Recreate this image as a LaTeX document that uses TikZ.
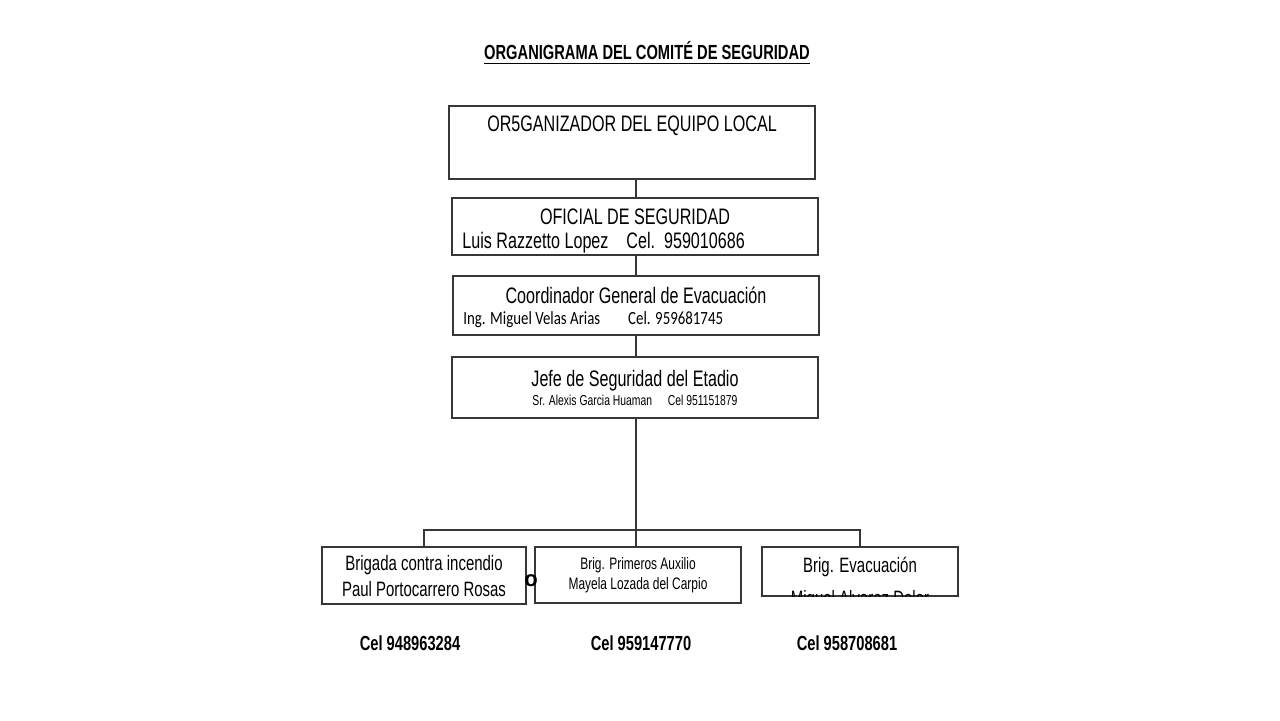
\documentclass[tikz,border=0pt]{standalone}
\usepackage{fontspec}
\setmainfont{Liberation Sans}[FakeStretch=0.72]
\newfontfamily\calfont{Carlito}[FakeStretch=0.8]
\newfontfamily\widefont{Liberation Sans}
\definecolor{orgline}{RGB}{55,55,55}
\tikzset{
  org box/.style={draw=orgline,line width=0.75pt,inner sep=0pt},
  org line/.style={draw=orgline,line width=0.75pt},
  org big/.style={font=\fontsize{11.2}{13}\selectfont,inner sep=0pt},
  org mid/.style={font=\fontsize{10.4}{12}\selectfont,inner sep=0pt},
  org small/.style={font=\fontsize{8.3}{10}\selectfont,inner sep=0pt},
  org cel/.style={font=\bfseries\fontsize{10.2}{12}\selectfont,inner sep=0pt}
}

\begin{document}
\begin{tikzpicture}[x=0.5pt,y=-0.5pt]
    \useasboundingbox (0,0) rectangle (1280,720);
    \node[font=\bfseries\fontsize{10.2}{12}\selectfont,inner sep=0pt] (title) at (647,53)
      {\underline{ORGANIGRAMA DEL COMITÉ DE SEGURIDAD}};
    \node[org box,minimum width=183pt,minimum height=36.5pt] (org) at (632,142.5) {};
    \node[org big] (orgtxt) at (632,126) {OR5GANIZADOR DEL EQUIPO LOCAL};
    \node[org box,minimum width=183pt,minimum height=28.5pt] (ofi) at (635,226.5) {};
    \node[org big] (ofitxt) at (635,217) {OFICIAL DE SEGURIDAD};
    \begin{scope}
      \clip (ofi.south west) rectangle (ofi.north east);
      \node[org big,anchor=west] (ofinom) at (462,242.5) {Luis Razzetto Lopez\hspace{0.8em}Cel.\hspace{0.4em}959010686};
    \end{scope}
    \node[org box,minimum width=183pt,minimum height=29.5pt] (coo) at (636,305.5) {};
    \node[org big] (cootxt) at (636,295) {Coordinador General de Evacuación};
    \node[inner sep=0pt,anchor=west,font=\calfont\fontsize{9.3}{11}\selectfont] (coonom) at (463,319.5)
      {Ing. Miguel Velas Arias\hspace{1.5em}Cel. 959681745};
    \node[org box,minimum width=183pt,minimum height=30.5pt] (jefe) at (635,387.5) {};
    \node[font=\fontsize{11.2}{13}\selectfont,inner sep=0pt] (jefetxt) at (635,381) {Jefe de Seguridad del Etadio};
    \node[font=\fontsize{7.2}{9}\selectfont,inner sep=0pt] (jefenom) at (635,400)
      {Sr. Alexis Garcia Huaman\hspace{1.1em}Cel 951151879};
    \node[org box,minimum width=102pt,minimum height=28.5pt] (inc) at (424,575.5) {};
    \node[org mid] (inctxt) at (424,565) {Brigada contra incendio};
    \node[org mid] (incnom) at (424,589) {Paul Portocarrero Rosas};
    \node[org box,minimum width=103pt,minimum height=28pt] (pri) at (638,575) {};
    \node[org small] (pritxt) at (638,565) {Brig. Primeros Auxilio};
    \node[org small] (prinom) at (638,585) {Mayela Lozada del Carpio};
    \node[org box,minimum width=98pt,minimum height=24.5pt] (eva) at (860,571.5) {};
    \node[org mid] (evatxt) at (860,567) {Brig. Evacuación};
    \begin{scope}
      \clip (eva.south west) rectangle (eva.north east);
      \node[org mid] (evanom) at (860,600) {Miguel Alvarez Dolor};
    \end{scope}
    \node[font=\widefont\bfseries\fontsize{11}{13}\selectfont,inner sep=0pt] (stray) at (531,581) {o};
    \node[org cel] (celinc) at (410,643) {Cel 948963284};
    \node[org cel] (celpri) at (641,643) {Cel 959147770};
    \node[org cel] (celeva) at (847,643) {Cel 958708681};
    \coordinate (bar) at (636,530);
    \draw[org line] (bar |- org.south) -- (bar |- ofi.north);
    \draw[org line] (bar |- ofi.south) -- (bar |- coo.north);
    \draw[org line] (bar |- coo.south) -- (bar |- jefe.north);
    \draw[org line] (bar |- jefe.south) -- (bar |- pri.north);
    \draw[org line] (inc.north) |- (bar) -| (eva.north);
  \end{tikzpicture}
\end{document}
